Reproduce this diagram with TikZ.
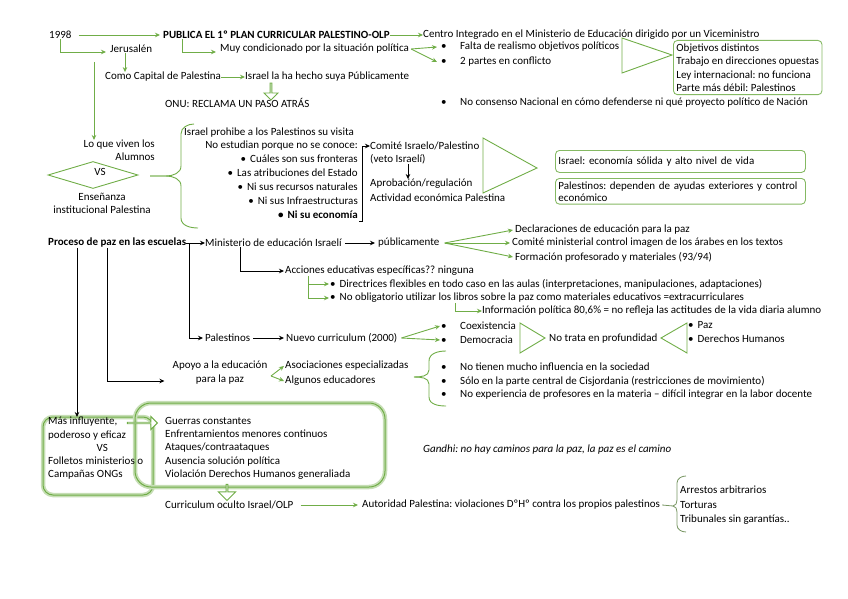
\documentclass[tikz,border=0pt]{standalone}
\usepackage{fontspec}
\setmainfont{Carlito}
\usetikzlibrary{arrows.meta,positioning,shapes.geometric,shapes.arrows}
\definecolor{mygreen}{HTML}{70AD47}
\newcommand{\itm}{\makebox[19pt][l]{\textbullet}}
\newcommand{\bul}{\textbullet\hspace{4pt}}
\frenchspacing

\begin{document}
\begin{tikzpicture}[x=1pt, y=-1pt,
  font=\fontsize{11}{13.5}\selectfont,
  txt/.style={inner sep=0pt, anchor=west},
  rtxt/.style={inner sep=0pt, anchor=east},
  bold/.style={font=\fontsize{11}{13.5}\selectfont\bfseries},
  garrow/.style={draw=mygreen, line width=0.9pt, -{Stealth[length=5pt,width=4.5pt]}},
  barrow/.style={draw=black, line width=0.8pt, -{Stealth[length=5pt,width=4.5pt]}},
  gline/.style={draw=mygreen, line width=0.9pt},
  gbox/.style={draw=mygreen!85, line width=0.9pt, rounded corners=4pt, inner sep=3pt, align=left},
  glow/.style={draw=mygreen, line width=1pt, preaction={draw=mygreen!40, line width=4.5pt}},
  hollow/.style={single arrow, draw=mygreen, line width=0.9pt, fill=white, inner sep=0pt}
]
\useasboundingbox (0,0) rectangle (848,599);

% --- 1998 / Jerusalen ---
\node[txt] (y98) at (49,35) {1998};
\node[txt, bold] (plan) at (163,35) {PUBLICA EL 1º PLAN CURRICULAR PALESTINO-OLP};
\node[txt] (centro) at (423,35) {Centro Integrado en el Ministerio de Educación dirigido por un Viceministro};
\node[txt] (jeru) at (110,49) {Jerusalén};
\node[txt] (muy) at (220,49) {Muy condicionado por la situación política};
\node[txt] (falta) at (441,47) {\itm Falta de realismo objetivos políticos};
\node[txt] (partes) at (441,62) {\itm 2 partes en conflicto};
\node[gbox, anchor=north west, minimum width=144pt] (obj) at (673,40) {Objetivos distintos\\Trabajo en direcciones opuestas\\Ley internacional: no funciona\\Parte más débil: Palestinos};
\node[txt] (consenso) at (441,103) {\itm No consenso Nacional en cómo defenderse ni qué proyecto político de Nación};
\node[txt] (capital) at (105,77) {Como Capital de Palestina};
\node[txt] (suya) at (245,77) {Israel la ha hecho suya Públicamente};
\node[txt] (onu) at (165,103) {ONU: RECLAMA UN PASO ATRÁS};
\node[hollow, shape border rotate=270, minimum height=17pt, minimum width=14pt, single arrow head extend=3pt] (onuarr) at (271,91) {};

\draw[garrow] ([xshift=7pt]y98.east) -- ([xshift=-3pt]plan.west);
\draw[garrow] (y98.south) |- ([xshift=-4pt,yshift=-3pt]jeru.west);
\draw[garrow] ([xshift=19pt]plan.south west) |- ([xshift=-4pt,yshift=-3pt]muy.west);
\draw[garrow] (plan.east) -- (centro.west);
\draw[garrow] ([xshift=2pt]muy.east) -- ([xshift=-4pt]falta.west);
\draw[garrow] ([xshift=2pt]muy.east) -- ([xshift=-4pt]partes.west);
\draw[gline] (622,38) -- (672,55) -- (622,73) -- cycle;
\draw[garrow] ([xshift=15pt]jeru.south west) -- ([xshift=20pt]capital.north west);
\draw[garrow] (capital.east) -- (suya.west);

% --- alumnos vs ensenanza ---
\coordinate (vtop) at (94,62);
\node[txt, anchor=north east, align=right, font=\fontsize{11}{13}\selectfont] (vivir) at (155,140) {Lo que viven los\\Alumnos};
\draw[garrow] (vtop) -- (vtop |- vivir.north);
\node[diamond, draw=mygreen, line width=0.9pt, minimum width=90pt, minimum height=27pt, inner sep=0pt] (vsd) at (93,175) {};
\node[inner sep=0pt] (vs) at (100,172) {VS};
\node[inner sep=0pt, anchor=north, align=center, font=\fontsize{11}{13}\selectfont] (ensen) at (102,193) {Enseñanza\\institucional Palestina};

\draw[gline] (194,124) to[out=180,in=90] (181,134) -- (181,166) to[out=-90,in=0] (166,176) -- (150,176);
\draw[gline] (150,176) -- (166,176) to[out=0,in=90] (181,186) -- (181,218) to[out=-90,in=180] (198,228);

\node[txt] (prohibe) at (184,133) {Israel prohibe a los Palestinos su visita};
\node[rtxt] (estud) at (358,146) {No estudian porque no se conoce:};
\node[rtxt] (front) at (358,159) {\bul Cuáles son sus fronteras};
\node[rtxt] (atrib) at (358,173) {\bul Las atribuciones del Estado};
\node[rtxt] (recur) at (358,187) {\bul Ni sus recursos naturales};
\node[rtxt] (infra) at (358,201) {\bul Ni sus Infraestructuras};
\node[rtxt, bold] (econ) at (358,215) {\bul Ni su economía};

\node[txt] (comite) at (370,146) {Comité Israelo/Palestino};
\node[txt] (veto) at (370,159) {(veto Israelí)};
\node[txt] (aprob) at (370,184) {Aprobación/regulación};
\node[txt] (activ) at (370,198) {Actividad económica Palestina};
\draw[barrow] ([xshift=1pt,yshift=-2pt]econ.south east) -| ([xshift=4pt]estud.east) -- (comite.west);
\draw[barrow] ([xshift=38pt]veto.south west) -- ([xshift=38pt]aprob.north west);
\draw[gline] (483,138) -- (537,168) -- (483,193) -- cycle;
\node[gbox, anchor=north west, text width=244pt, minimum height=22pt] (isr) at (555,150) {Israel: economía sólida y alto nivel de vida};
\node[gbox, anchor=north west, text width=244pt, font=\fontsize{11}{12}\selectfont] (palb) at (555,178) {Palestinos: dependen de ayudas exteriores y control\\económico};

% --- proceso de paz ---
\node[txt, bold] (proc) at (48,243) {Proceso de paz en las escuelas};
\node[txt] (minis) at (205,243) {Ministerio de educación Israelí};
\node[txt] (publ) at (378,243) {públicamente};
\node[txt] (decl) at (515,230) {Declaraciones de educación para la paz};
\node[txt] (comim) at (512,243) {Comité ministerial control imagen de los árabes en los textos};
\node[txt] (form) at (515,257) {Formación profesorado y materiales (93/94)};
\draw[barrow] (proc.east) -- (minis.west);
\draw[barrow] ([xshift=3pt]minis.east) -- ([xshift=-3pt]publ.west);
\coordinate (pubfan) at ([xshift=5pt]publ.east);
\draw[garrow] (pubfan) -- ([xshift=-2pt]decl.west);
\draw[garrow] (pubfan) -- ([xshift=-2pt]comim.west);
\draw[garrow] (pubfan) -- ([xshift=-2pt]form.west);

\node[txt] (acc) at (285,271) {Acciones educativas específicas?? ninguna};
\draw[barrow] ([xshift=35pt]minis.south west) |- ([xshift=-1pt]acc.west);
\node[txt] (direc) at (330,284) {\bul Directrices flexibles en todo caso en las aulas (interpretaciones, manipulaciones, adaptaciones)};
\node[txt] (noobl) at (330,298) {\bul No obligatorio utilizar los libros sobre la paz como materiales educativos =extracurriculares};
\draw[garrow] ([xshift=23pt]acc.south west) |- ([xshift=-1pt]direc.west);
\draw[garrow] ([xshift=23pt]acc.south west) |- ([xshift=-1pt]noobl.west);
\node[txt] (infop) at (482,311) {Información política 80,6\% = no refleja las actitudes de la vida diaria alumno};
\draw[garrow] ([xshift=125pt]noobl.south west) |- (infop.west);

\node[txt] (pal) at (205,338) {Palestinos};
\node[txt] (nuevo) at (286,338) {Nuevo curriculum (2000)};
\coordinate (procfork) at ([xshift=3pt]proc.east);
\draw[barrow] (procfork) |- ([xshift=-2pt]pal.west);
\draw[barrow] ([xshift=3pt]pal.east) -- ([xshift=-2pt]nuevo.west);
\node[txt] (coex) at (441,326) {\itm Coexistencia};
\node[txt] (democ) at (441,340) {\itm Democracia};
\draw[garrow] ([xshift=4pt]nuevo.east) -- ([xshift=-1pt]coex.west);
\draw[garrow] ([xshift=4pt]nuevo.east) -- ([xshift=-1pt]democ.west);
\draw[gline] (520,323) -- (545,338) -- (520,353) -- cycle;
\node[txt] (notrata) at (549,339) {No trata en profundidad};
\draw[gline] (687,323) -- (661,338) -- (687,353) -- cycle;
\node[txt] (paz) at (688,325) {\bul Paz};
\node[txt] (ddhh) at (688,339) {\bul Derechos Humanos};

\node[inner sep=0pt, align=center, font=\fontsize{11}{14}\selectfont] (apoyo) at (220,373) {Apoyo a la educación\\para la paz};
\node[txt] (asoc) at (285,366) {Asociaciones especializadas};
\node[txt] (algun) at (285,381) {Algunos educadores};
\draw[barrow] ([xshift=59pt]proc.south west) |- ([xshift=-8pt]apoyo.west |- algun.west);
\coordinate (apfan) at (271,376);
\draw[garrow] (apfan) -- ([xshift=-1pt]asoc.west);
\draw[garrow] (apfan) -- ([xshift=-1pt]algun.west);

\draw[gline] (446,351) to[out=180,in=90] (429,361) -- (429,370) to[out=-90,in=0] (414,377);
\draw[gline] (414,377) to[out=0,in=90] (429,384) -- (429,397) to[out=-90,in=180] (446,406);
\node[txt] (ninf) at (441,367) {\itm No tienen mucho influencia en la sociedad};
\node[txt] (solo) at (441,381) {\itm Sólo en la parte central de Cisjordania (restricciones de movimiento)};
\node[txt] (noexp) at (441,395) {\itm No experiencia de profesores en la materia – difícil integrar en la labor docente};

% --- conflicto ---
\draw[glow, rounded corners=10pt] (43,417) rectangle (153,495);
\draw[glow, rounded corners=16pt] (135,403) rectangle (385,487);
\node[txt, anchor=north west, align=left, font=\fontsize{11}{13.25}\selectfont] (infl) at (48,417) {Más influyente,\\poderoso y eficaz\\\makebox[108pt]{VS}\\Folletos ministerios o\\Campañas ONGs};
\node[txt, anchor=north west, align=left, font=\fontsize{11}{13.25}\selectfont] (guerras) at (165,417) {Guerras constantes\\Enfrentamientos menores continuos\\Ataques/contraataques\\Ausencia solución política\\Violación Derechos Humanos generaliada};
\draw[barrow] ([xshift=29pt]proc.south west) -- ([xshift=29pt]proc.south west |- infl.north);
\node[hollow, minimum height=30pt, minimum width=13pt, single arrow head extend=3.5pt] (harr) at (142,423) {};
\node[hollow, shape border rotate=270, minimum height=16pt, minimum width=17pt, single arrow head extend=4pt] (darr) at (227,492) {};

\node[txt] (ocult) at (165,505) {Curriculum oculto Israel/OLP};
\node[txt] (autor) at (362,505) {Autoridad Palestina: violaciones DºHº contra los propios palestinos};
\draw[garrow] ([xshift=7pt]ocult.east) -- ([xshift=-4pt]autor.west);
\coordinate (brtip) at (673,506);
\draw[draw=mygreen!50!gray, line width=0.8pt] ([xshift=2pt]autor.east) -- (brtip);
\draw[draw=mygreen!50!gray, line width=0.8pt] (686,476) to[out=180,in=90] (677,483) -- (677,500) to[out=-90,in=0] (brtip) to[out=0,in=90] (677,512) -- (677,525) to[out=-90,in=180] (686,532);
\node[txt] (arrest) at (680,490) {Arrestos arbitrarios};
\node[txt] (tort) at (680,505) {Torturas};
\node[txt] (trib) at (680,520) {Tribunales sin garantías..};

\node[txt, font=\fontsize{11}{13.5}\selectfont\itshape] (gandhi) at (423,450) {Gandhi: no hay caminos para la paz, la paz es el camino};
\end{tikzpicture}
\end{document}
